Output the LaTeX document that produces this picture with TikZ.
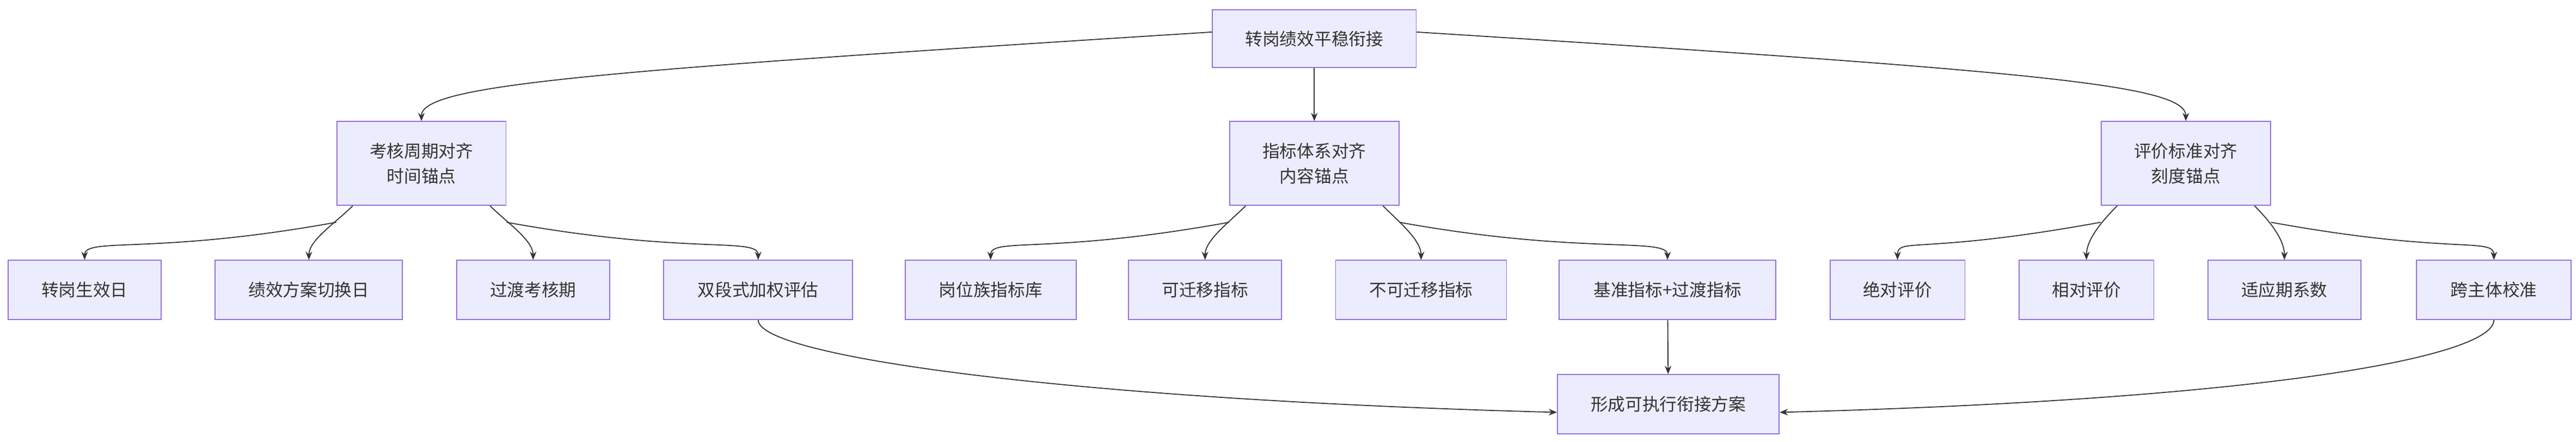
\documentclass[tikz,border=0pt]{standalone}
\usepackage{fontspec}
\setmainfont{Noto Sans CJK SC}
\usetikzlibrary{arrows.meta}
\definecolor{boxfill}{HTML}{ECECFF}
\definecolor{boxline}{HTML}{9370DB}
\definecolor{ink}{HTML}{333333}
\tikzset{
  box/.style={rectangle,draw=boxline,fill=boxfill,line width=0.6pt,text=ink,
    font=\fontsize{10.5}{15}\selectfont,align=center,inner sep=0pt},
  link/.style={draw=ink,line width=0.6pt,-{Stealth[length=5pt,width=4pt]}}
}
\begin{document}
\begin{tikzpicture}[x=1pt,y=-1pt]
  \useasboundingbox (0,0) rectangle (1568,269);
  % top
  \node[box,minimum width=124pt,minimum height=35pt] (root) at (800,23.5) {转岗绩效平稳衔接};
  % second row
  \node[box,minimum width=103pt,minimum height=51pt] (cyc) at (256.5,99.5) {考核周期对齐\\时间锚点};
  \node[box,minimum width=103pt,minimum height=51pt] (idx) at (800,99.5) {指标体系对齐\\内容锚点};
  \node[box,minimum width=103pt,minimum height=51pt] (std) at (1330.5,99.5) {评价标准对齐\\刻度锚点};
  % leaves
  \foreach \name/\x/\w/\txt in {
      a1/51.5/93/转岗生效日, a2/188/114/绩效方案切换日, a3/324.5/93/过渡考核期, a4/461.5/115/双段式加权评估,
      b1/603/104/岗位族指标库, b2/733.5/93/可迁移指标, b3/865/104/不可迁移指标, b4/1015/132/基准指标+过渡指标,
      c1/1155/82/绝对评价, c2/1270/82/相对评价, c3/1390.5/93/适应期系数, c4/1518/94/跨主体校准}
    \node[box,minimum width=\w pt,minimum height=36pt] (\name) at (\x,176.5) {\txt};
  \node[box,minimum width=135pt,minimum height=36pt] (out) at (1015.5,246) {形成可执行衔接方案};
  % root to second row
  \draw[link] ([yshift=4pt]root.west) .. controls +(-380,24) and +(0,-22) .. (cyc.north);
  \draw[link] (root) -- (idx);
  \draw[link] ([yshift=4pt]root.east) .. controls +(380,24) and +(0,-22) .. (std.north);
  % second row to leaves
  \foreach \p/\l in {cyc/a, idx/b, std/c}{
    \draw[link] ([yshift=-10pt]\p.south west) .. controls +(-110,20) and +(0,-14) .. (\l1.north);
    \draw[link] ([xshift=10pt]\p.south west) .. controls +(-10,10) and +(0,-12) .. (\l2.north);
    \draw[link] ([xshift=-10pt]\p.south east) .. controls +(10,10) and +(0,-12) .. (\l3.north);
    \draw[link] ([yshift=-10pt]\p.south east) .. controls +(110,20) and +(0,-14) .. (\l4.north);
  }
  % leaves to result
  \draw[link] (a4.south) .. controls +(0,22) and +(-300,-8) .. ([yshift=-5pt]out.west);
  \draw[link] (b4) -- (out);
  \draw[link] (c4.south) .. controls +(0,22) and +(300,-8) .. ([yshift=-5pt]out.east);
\end{tikzpicture}
\end{document}
